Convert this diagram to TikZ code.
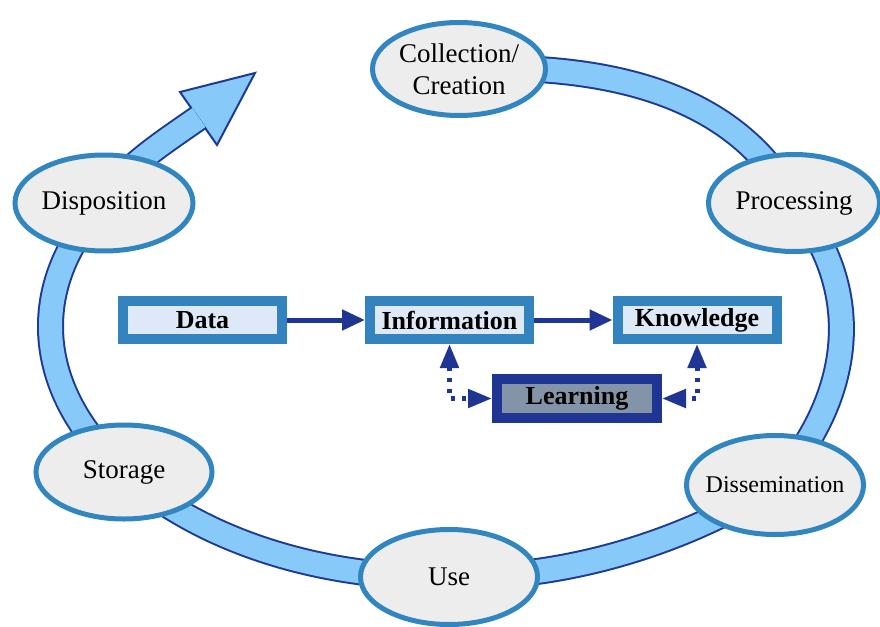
\documentclass[tikz,border=0pt]{standalone}
\usepackage{fontspec}
\setmainfont{Liberation Serif}
\usetikzlibrary{arrows.meta,shapes.geometric}
\definecolor{ringlight}{HTML}{87CAFA}
\definecolor{ringdark}{HTML}{1F3A93}
\definecolor{ellborder}{HTML}{3286BF}
\definecolor{ellfill}{HTML}{EDEDED}
\definecolor{boxborder}{HTML}{3283BE}
\definecolor{boxfill}{HTML}{DDE9F6}
\definecolor{learnborder}{HTML}{1F3594}
\definecolor{learnfill}{HTML}{8494A8}
\definecolor{arrowblue}{HTML}{1F3594}
\pgfdeclarelayer{bg}
\pgfsetlayers{bg,main}
\begin{document}
\begin{tikzpicture}[x=1pt,y=-1pt,
  stage/.style={ellipse, draw=ellborder, fill=ellfill, line width=5pt, inner sep=0pt,
    font=\fontsize{27}{32}\selectfont},
  band/.style={draw=ringdark, line width=2pt, double=ringlight, double distance=23pt},
  infobox/.style={rectangle, draw=boxborder, fill=boxfill, line width=10pt,
    minimum width=159pt, minimum height=38pt, inner sep=0pt,
    font=\fontsize{26}{30}\selectfont\bfseries},
  learnbox/.style={infobox, draw=learnborder, fill=learnfill, minimum width=160pt, minimum height=39pt},
  solidarrow/.style={draw=arrowblue, line width=5pt, -{Triangle[length=23pt,width=20pt]}},
  dotarrow/.style={draw=arrowblue, line width=5pt, dash pattern=on 4pt off 7pt,
    {Triangle[length=24pt,width=18pt]}-{Triangle[length=24pt,width=18pt]}},
  headstyle/.style={draw=ringdark, fill=ringlight, line width=2pt, line join=miter}
]
\useasboundingbox (0,0) rectangle (880,626);

% stages of the cycle
\node[stage, minimum width=173pt, minimum height=93pt, align=center] (coll) at (459,69) {Collection/\\Creation};
\node[stage, minimum width=171pt, minimum height=97pt] (proc) at (794,203) {\makebox[0pt]{Processing}};
\node[stage, minimum width=177pt, minimum height=99pt, font=\fontsize{24}{28}\selectfont] (diss) at (775,485) {\makebox[0pt]{Dissemination}};
\node[stage, minimum width=177pt, minimum height=95pt] (use) at (449,577) {\makebox[0pt]{Use}};
\node[stage, minimum width=176pt, minimum height=94pt] (stor) at (124,472) {\makebox[0pt]{Storage}};
\node[stage, minimum width=178pt, minimum height=96pt] (disp) at (104,203) {\makebox[0pt]{Disposition}};

\coordinate (hb) at (199,117.5);

\begin{pgfonlayer}{bg}
  % arrow head of the cycle
  \draw[headstyle] (180,92) -- (255,73) -- (217,145) -- cycle;
  % ring segments
  \draw[band] (coll.center) .. controls (620,62) and (740,100) .. (proc.center);
  \draw[band] (proc.center) .. controls (866,291) and (853,398) .. (diss.center);
  \draw[band] (diss.center) .. controls (686,541) and (569,579) .. (use.center);
  \draw[band] (use.center) .. controls (319,579) and (200,540) .. (stor.center);
  \draw[band] (stor.center) .. controls (35,393) and (25,286) .. (disp.center);
  \draw[band] (disp.center) .. controls (118,172) and (158,146) .. (hb);
\end{pgfonlayer}

% inner boxes
\node[infobox] (data) at (202.5,320) {Data};
\node[infobox] (info) at (449.5,320) {Information};
\node[infobox] (know) at (697,320) {Knowledge};
\node[learnbox] (learn) at (577,398.5) {Learning};

\draw[solidarrow] (data.east) -- (info.west);
\draw[solidarrow] (info.east) -- (know.west);
\draw[dotarrow] (info.south) -- (info.south |- learn.west) -- (learn.west);
\draw[dotarrow] (know.south) -- (know.south |- learn.east) -- (learn.east);
\end{tikzpicture}
\end{document}
